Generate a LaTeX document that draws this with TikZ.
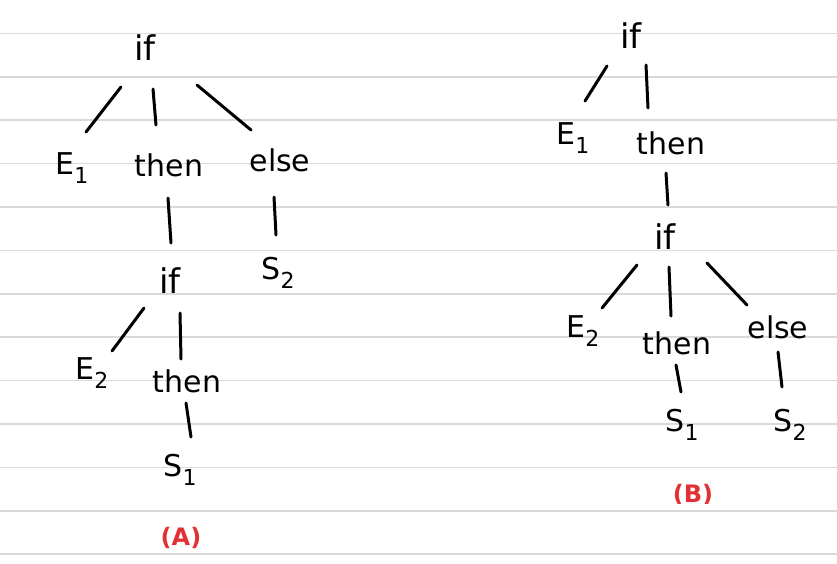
\documentclass[tikz,border=0pt]{standalone}
\usepackage{fontspec}
\setmainfont{DejaVu Sans}
\usetikzlibrary{calc}
\definecolor{rulegray}{RGB}{218,218,218}
\definecolor{labred}{RGB}{228,48,52}
\newcommand\subnum[1]{\raisebox{-9pt}{\fontsize{22}{22}\selectfont #1}}
\begin{document}
\begin{tikzpicture}[x=1pt,y=-1pt,
  hw/.style={inner sep=0pt, font=\fontsize{30}{30}\selectfont},
  hwif/.style={inner sep=0pt, font=\fontsize{34}{34}\selectfont},
  edge/.style={line width=3pt, line cap=round},
  rule/.style={draw=rulegray, line width=1.6pt},
  lab/.style={text=labred, font=\fontsize{24}{24}\selectfont\bfseries, inner sep=0pt}]
\useasboundingbox[fill=white] (0,0) rectangle (837,563);
\foreach \k in {0,...,12} \draw[rule] (0,{33.3+43.4*\k}) -- (837,{33.3+43.4*\k});

% ---- Panel A ----
\node[hwif] (ifA) at (145,48) {if};
\node[hw] (E1A) at (72,168) {E\subnum{1}};
\node[hw] (thenA) at (169,165) {then};
\node[hw] (elseA) at (280,160) {else};
\node[hwif] (if2A) at (170,281) {if};
\node[hw] (S2A) at (278,273) {S\subnum{2}};
\node[hw] (E2A) at (92,373) {E\subnum{2}};
\node[hw] (then2A) at (187,381) {then};
\node[hw] (S1A) at (180,470) {S\subnum{1}};
\node[lab] (labA) at (181,538) {(A)};

\draw[edge] ($(ifA)+(-24,39)$) -- ($(E1A)+(14,-36)$);
\draw[edge] ($(ifA)+(8,41)$) -- ($(thenA)+(-13,-40)$);
\draw[edge] ($(ifA)+(52,37)$) -- ($(elseA)+(-29,-30)$);
\draw[edge] ($(thenA)+(-1,33)$) -- ($(if2A)+(1,-38)$);
\draw[edge] ($(elseA)+(-6,37)$) -- ($(S2A)+(-2,-38)$);
\draw[edge] ($(if2A)+(-26,27)$) -- ($(E2A)+(20,-22)$);
\draw[edge] ($(if2A)+(10,32)$) -- ($(then2A)+(-6,-22)$);
\draw[edge] ($(then2A)+(-1,22)$) -- ($(S1A)+(11,-33)$);

% ---- Panel B ----
\node[hwif] (ifB) at (631,36) {if};
\node[hw] (E1B) at (573,138) {E\subnum{1}};
\node[hw] (thenB) at (671,143) {then};
\node[hwif] (if2B) at (665,237) {if};
\node[hw] (E2B) at (583,331) {E\subnum{2}};
\node[hw] (then2B) at (677,343) {then};
\node[hw] (else2B) at (778,327) {else};
\node[hw] (S1B) at (682,425) {S\subnum{1}};
\node[hw] (S2B) at (790,425) {S\subnum{2}};
\begin{scope}
\clip (640,470) rectangle (750,503);
\node[lab] (labB) at (693,495) {(B)};
\end{scope}

\draw[edge] ($(ifB)+(-24,30)$) -- ($(E1B)+(12,-37)$);
\draw[edge] ($(ifB)+(15,29)$) -- ($(thenB)+(-23,-35)$);
\draw[edge] ($(thenB)+(-5,30)$) -- ($(if2B)+(3,-32)$);
\draw[edge] ($(if2B)+(-28,28)$) -- ($(E2B)+(19,-23)$);
\draw[edge] ($(if2B)+(4,30)$) -- ($(then2B)+(-6,-27)$);
\draw[edge] ($(if2B)+(42,26)$) -- ($(else2B)+(-31,-22)$);
\draw[edge] ($(then2B)+(-1,22)$) -- ($(S1B)+(-1,-33)$);
\draw[edge] ($(else2B)+(0,25)$) -- ($(S2B)+(-8,-38)$);
\end{tikzpicture}
\end{document}
